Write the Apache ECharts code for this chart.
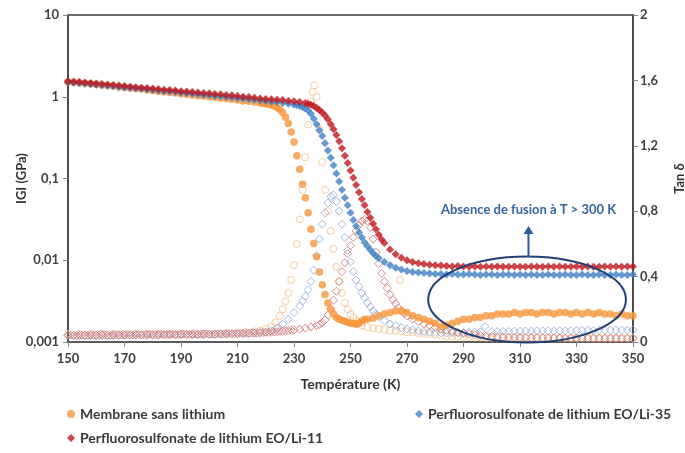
<!DOCTYPE html>
<html><head><meta charset="utf-8">
<script src="https://cdn.jsdelivr.net/npm/echarts@6/dist/echarts.min.js"></script>
<style>html,body{margin:0;padding:0;background:#fff}#c{width:685px;height:453px}</style>
</head><body><div id="c"></div><script>
// ---- data ----
const xTicks = [150,170,190,210,230,250,270,290,310,330,350];
const leftTicks = [0.001,0.01,0.1,1,10];
const rightTicks = [0,0.4,0.8,1.2,1.6,2];

const seriesNames = ['Membrane sans lithium','Perfluorosulfonate de lithium EO/Li-35','Perfluorosulfonate de lithium EO/Li-11'];

// G' (GPa) - filled markers, left log axis
const gMembrane = [[150,1.52],[152,1.50],[154,1.48],[156,1.46],[158,1.44],[160,1.41],[162,1.39],[164,1.37],[166,1.35],[168,1.32],[170,1.30],[172,1.28],[174,1.26],[176,1.24],[178,1.22],[180,1.19],[182,1.17],[184,1.15],[186,1.13],[188,1.11],[190,1.09],[192,1.07],[194,1.05],[196,1.03],[198,1.02],[200,1.00],[202,0.98],[204,0.96],[206,0.95],[208,0.93],[210,0.91],[212,0.89],[214,0.88],[216,0.86],[218,0.84],[219,0.83],[220,0.82],[221,0.81],[222,0.79],[223,0.77],[224,0.74],[225,0.70],[226,0.64],[227,0.56],[228,0.47],[229,0.37],[230,0.28],[231,0.19],[232,0.13],[233,0.085],[234,0.058],[235,0.038],[236,0.024],[237,0.016],[238,0.011],[239,0.0072],[240,0.0050],[241,0.0038],[242,0.0030],[243,0.0025],[244,0.0022],[245,0.0020],[246,0.0019],[247,0.00185],[248,0.0018],[249,0.00175],[250,0.0017],[251,0.0017],[252,0.00165],[253,0.0017],[254,0.0018],[255,0.0019],[256,0.0019],[258,0.00195],[260,0.0021],[262,0.0022],[264,0.0023],[266,0.0024],[268,0.0024],[270,0.0023],[272,0.0021],[274,0.0020],[276,0.0019],[278,0.0018],[280,0.0017],[282,0.00155],[284,0.0016],[286,0.0017],[288,0.0018],[290,0.0019],[292,0.0019],[294,0.0020],[296,0.0020],[298,0.0021],[300,0.0021],[302,0.0022],[304,0.0022],[306,0.0022],[308,0.0023],[310,0.0022],[312,0.0023],[314,0.0023],[316,0.0022],[318,0.0023],[320,0.0023],[322,0.0022],[324,0.0023],[326,0.0023],[328,0.0022],[330,0.0023],[332,0.0022],[334,0.0023],[336,0.0022],[338,0.0023],[340,0.0022],[342,0.0022],[344,0.0021],[346,0.0022],[348,0.0021],[350,0.0021]];

const gLi35 = [[150,1.50],[152,1.48],[154,1.46],[156,1.44],[158,1.42],[160,1.40],[162,1.38],[164,1.36],[166,1.34],[168,1.32],[170,1.30],[172,1.28],[174,1.26],[176,1.25],[178,1.23],[180,1.21],[182,1.19],[184,1.17],[186,1.16],[188,1.14],[190,1.12],[192,1.10],[194,1.09],[196,1.07],[198,1.05],[200,1.04],[202,1.02],[204,1.01],[206,0.99],[208,0.98],[210,0.96],[212,0.95],[214,0.93],[216,0.92],[218,0.90],[220,0.89],[222,0.87],[224,0.86],[226,0.84],[228,0.82],[230,0.80],[231,0.79],[232,0.77],[233,0.75],[234,0.72],[235,0.68],[236,0.62],[237,0.54],[238,0.46],[239,0.39],[240,0.33],[241,0.27],[242,0.22],[243,0.18],[244,0.145],[245,0.115],[246,0.092],[247,0.073],[248,0.058],[249,0.047],[250,0.038],[251,0.031],[252,0.026],[253,0.022],[254,0.019],[255,0.0165],[256,0.0148],[257,0.0134],[258,0.0122],[259,0.0113],[260,0.0106],[262,0.0095],[264,0.0087],[266,0.0081],[268,0.0077],[270,0.0074],[272,0.0072],[274,0.0071],[276,0.0070],[278,0.0069],[280,0.0068],[282,0.0068],[284,0.0067],[286,0.0068],[288,0.0067],[290,0.0067],[292,0.0068],[294,0.0067],[296,0.0066],[298,0.0067],[300,0.0067],[302,0.0066],[304,0.0067],[306,0.0067],[308,0.0066],[310,0.0067],[312,0.0066],[314,0.0067],[316,0.0066],[318,0.0066],[320,0.0067],[322,0.0066],[324,0.0066],[326,0.0067],[328,0.0066],[330,0.0066],[332,0.0067],[334,0.0066],[336,0.0066],[338,0.0067],[340,0.0066],[342,0.0066],[344,0.0067],[346,0.0066],[348,0.0066],[350,0.0067]];

const gLi11 = [[150,1.55],[152,1.53],[154,1.51],[156,1.49],[158,1.47],[160,1.45],[162,1.43],[164,1.41],[166,1.39],[168,1.37],[170,1.35],[172,1.33],[174,1.31],[176,1.29],[178,1.28],[180,1.26],[182,1.24],[184,1.22],[186,1.21],[188,1.19],[190,1.17],[192,1.16],[194,1.14],[196,1.13],[198,1.11],[200,1.10],[202,1.08],[204,1.07],[206,1.05],[208,1.04],[210,1.02],[212,1.00],[214,0.99],[216,0.97],[218,0.95],[220,0.94],[222,0.93],[224,0.92],[226,0.91],[228,0.89],[230,0.88],[232,0.86],[234,0.84],[235,0.82],[236,0.80],[237,0.77],[238,0.73],[239,0.69],[240,0.64],[241,0.59],[242,0.53],[243,0.46],[244,0.40],[245,0.34],[246,0.285],[247,0.235],[248,0.19],[249,0.155],[250,0.125],[251,0.102],[252,0.083],[253,0.068],[254,0.056],[255,0.047],[256,0.039],[257,0.033],[258,0.028],[259,0.024],[260,0.0205],[261,0.018],[262,0.0162],[264,0.0135],[266,0.0118],[268,0.0107],[270,0.0100],[272,0.0095],[274,0.0092],[276,0.0090],[278,0.0088],[280,0.0087],[282,0.0086],[284,0.0085],[286,0.0084],[288,0.0085],[290,0.0084],[292,0.0083],[294,0.0084],[296,0.0083],[298,0.0084],[300,0.0083],[302,0.0084],[304,0.0083],[306,0.0083],[308,0.0084],[310,0.0083],[312,0.0083],[314,0.0084],[316,0.0083],[318,0.0083],[320,0.0084],[322,0.0083],[324,0.0084],[326,0.0083],[328,0.0083],[330,0.0084],[332,0.0083],[334,0.0084],[336,0.0083],[338,0.0083],[340,0.0084],[342,0.0083],[344,0.0084],[346,0.0083],[348,0.0084],[350,0.0084]];

// Tan delta - open markers, right linear axis
const tanMembrane = [[150,0.05],[154,0.05],[158,0.05],[162,0.05],[166,0.05],[170,0.05],[174,0.05],[178,0.05],[182,0.05],[186,0.05],[190,0.05],[194,0.05],[198,0.05],[202,0.05],[206,0.055],[210,0.055],[213,0.06],[216,0.065],[218,0.07],[220,0.08],[222,0.095],[223.5,0.12],[225,0.16],[226,0.2],[227,0.25],[228,0.30],[229,0.38],[230,0.47],[231,0.60],[232,0.75],[233,0.93],[234,1.13],[235,1.33],[236,1.47],[236.6,1.53],[237.2,1.57],[238,1.50],[239,1.30],[240,1.10],[241,0.93],[242,0.80],[243,0.68],[244,0.57],[245,0.46],[246,0.37],[247,0.30],[248,0.24],[249,0.20],[250,0.17],[251,0.15],[252,0.13],[253,0.115],[254,0.10],[256,0.09],[258,0.085],[260,0.08],[262,0.075],[264,0.07],[266,0.068],[267.5,0.38],[268,0.065],[270,0.06],[272,0.058],[274,0.055],[276,0.05],[278,0.048],[280,0.045],[282,0.04],[284,0.037],[286,0.034],[288,0.032],[290,0.03],[292,0.029],[294,0.028],[296,0.028],[298,0.027],[300,0.027],[302,0.026],[304,0.026],[306,0.026],[308,0.025],[310,0.025],[312,0.025],[314,0.025],[316,0.025],[318,0.025],[320,0.024],[322,0.024],[324,0.024],[326,0.024],[328,0.024],[330,0.024],[332,0.024],[334,0.024],[336,0.023],[338,0.023],[340,0.023],[342,0.023],[344,0.023],[346,0.023],[348,0.023],[350,0.023]];

const tanLi35 = [[150,0.04],[152,0.04],[154,0.04],[156,0.04],[158,0.04],[160,0.04],[162,0.04],[164,0.04],[166,0.04],[168,0.041],[170,0.041],[172,0.041],[174,0.041],[176,0.042],[178,0.042],[180,0.042],[182,0.042],[184,0.043],[186,0.043],[188,0.043],[190,0.044],[192,0.044],[194,0.044],[196,0.045],[198,0.045],[200,0.046],[202,0.046],[204,0.047],[206,0.048],[208,0.049],[210,0.05],[212,0.051],[214,0.053],[216,0.055],[218,0.058],[220,0.062],[222,0.07],[224,0.085],[226,0.11],[228,0.14],[230,0.18],[232,0.22],[233,0.25],[234,0.28],[235,0.32],[236,0.37],[237,0.44],[238,0.53],[239,0.63],[240,0.72],[241,0.79],[242,0.85],[243,0.89],[244,0.90],[245,0.86],[246,0.80],[247,0.72],[248,0.64],[249,0.56],[250,0.49],[251,0.43],[252,0.38],[253,0.34],[254,0.30],[255,0.27],[256,0.24],[257,0.215],[258,0.19],[259,0.17],[260,0.155],[262,0.13],[264,0.11],[266,0.10],[268,0.088],[270,0.08],[272,0.074],[274,0.068],[276,0.064],[278,0.06],[280,0.058],[282,0.056],[284,0.055],[286,0.056],[288,0.057],[290,0.058],[292,0.06],[294,0.06],[296,0.062],[297.6,0.095],[300,0.064],[302,0.064],[304,0.065],[306,0.065],[308,0.066],[310,0.066],[312,0.067],[314,0.067],[316,0.068],[318,0.068],[320,0.068],[322,0.069],[324,0.069],[326,0.07],[328,0.07],[330,0.07],[332,0.07],[334,0.071],[336,0.071],[338,0.071],[340,0.072],[342,0.072],[344,0.072],[346,0.073],[348,0.073],[350,0.073]];

const tanLi11 = [[150,0.040],[151,0.042],[152,0.041],[153,0.039],[154,0.040],[155,0.043],[156,0.042],[157,0.040],[158,0.041],[159,0.043],[160,0.042],[161,0.041],[162,0.043],[163,0.044],[164,0.042],[165,0.041],[166,0.043],[167,0.045],[168,0.044],[169,0.042],[170,0.043],[171,0.045],[172,0.044],[173,0.043],[174,0.045],[175,0.046],[176,0.044],[177,0.043],[178,0.045],[179,0.047],[180,0.046],[181,0.044],[182,0.045],[183,0.047],[184,0.046],[185,0.045],[186,0.047],[187,0.048],[188,0.046],[189,0.045],[190,0.047],[191,0.049],[192,0.048],[193,0.046],[194,0.047],[195,0.049],[196,0.048],[197,0.047],[198,0.049],[199,0.050],[200,0.048],[201,0.047],[202,0.049],[203,0.051],[204,0.05],[205,0.049],[206,0.05],[207,0.052],[208,0.051],[209,0.050],[210,0.052],[211,0.054],[212,0.053],[213,0.052],[214,0.054],[215,0.056],[216,0.055],[217,0.054],[218,0.056],[219,0.058],[220,0.058],[221,0.059],[222,0.06],[223,0.062],[224,0.063],[225,0.064],[226,0.066],[227,0.068],[228,0.07],[229,0.072],[230,0.074],[232,0.079],[234,0.085],[236,0.092],[238,0.10],[239,0.107],[240,0.118],[241,0.135],[242,0.165],[243,0.205],[244,0.255],[245,0.31],[246,0.37],[247,0.43],[248,0.485],[249,0.54],[250,0.59],[251,0.64],[252,0.68],[253,0.715],[254,0.74],[255,0.75],[256,0.74],[257,0.70],[258,0.63],[259,0.55],[260,0.48],[261,0.42],[262,0.37],[263,0.33],[264,0.29],[265,0.26],[266,0.235],[267,0.21],[268,0.19],[269,0.175],[270,0.16],[272,0.14],[274,0.125],[276,0.11],[278,0.10],[280,0.09],[282,0.08],[284,0.07],[286,0.064],[288,0.058],[290,0.053],[292,0.048],[294,0.044],[296,0.04],[298,0.037],[300,0.035],[302,0.033],[304,0.031],[306,0.03],[308,0.029],[310,0.028],[312,0.027],[314,0.027],[316,0.026],[318,0.026],[320,0.025],[322,0.025],[324,0.025],[326,0.024],[328,0.024],[330,0.024],[332,0.024],[334,0.023],[336,0.023],[338,0.023],[340,0.023],[342,0.023],[344,0.023],[346,0.022],[348,0.022],[350,0.022]];

// annotation (data units: temperature, tan delta)
const noteText = 'Absence de fusion à T > 300 K';
const noteEllipse = {t: 312.5, tan: 0.26, dt: 35, dtan: 0.263};
const noteArrow = {t: 313, from: 0.52, to: 0.71};
const noteLabel = {t: 313, tan: 0.807};

// ---- chart ----
const FONT = 'Lato, "Open Sans", sans-serif';
const fmtComma = v => String(v).replace('.', ',');
const chart = echarts.init(document.getElementById('c'), null, {renderer: 'canvas'});

const openStyle = (c) => ({color: 'rgba(255,255,255,0)', borderColor: c, borderWidth: 1});

chart.setOption({
  animation: false,
  backgroundColor: '#fff',
  grid: {left: 68, right: 52, top: 15, bottom: 111, outerBoundsMode: 'none', containLabel: false,
    show: true, borderColor: '#404040', borderWidth: 1.5, backgroundColor: 'transparent'},
  xAxis: {
    type: 'value', min: 150, max: 350, interval: 20,
    name: 'Température (K)', nameLocation: 'middle', nameGap: 35, nameMoveOverlap: false,
    nameTextStyle: {fontFamily: FONT, fontWeight: 'bold', fontSize: 14, color: '#333'},
    axisLine: {show: true, lineStyle: {color: '#555', width: 1.5}},
    axisTick: {show: true, length: 5, lineStyle: {color: '#888'}},
    splitLine: {show: false},
    axisLabel: {fontFamily: FONT, fontWeight: 'bold', fontSize: 13, color: '#404040', margin: 10,
      formatter: v => xTicks.includes(v) ? String(v) : ''}
  },
  yAxis: [{
    type: 'log', logBase: 10, min: leftTicks[0], max: leftTicks[leftTicks.length-1],
    name: 'IGI (GPa)', nameLocation: 'middle', nameGap: 40, nameRotate: 90, nameMoveOverlap: false,
    nameTextStyle: {fontFamily: FONT, fontWeight: 'bold', fontSize: 13, color: '#333'},
    axisLine: {show: true, lineStyle: {color: '#404040', width: 1.5}},
    axisTick: {show: true, length: 5, lineStyle: {color: '#888'}},
    splitLine: {show: false}, minorTick: {show: false},
    axisLabel: {fontFamily: FONT, fontWeight: 'bold', fontSize: 13, color: '#404040', margin: 9,
      formatter: v => v >= 1 ? String(Math.round(v)) : fmtComma(+v.toPrecision(1))}
  }, {
    type: 'value', position: 'right', min: rightTicks[0], max: rightTicks[rightTicks.length-1], interval: 0.4,
    name: 'Tan δ', nameLocation: 'middle', nameGap: 40, nameRotate: 90, nameMoveOverlap: false,
    nameTextStyle: {fontFamily: FONT, fontWeight: 'bold', fontSize: 13, color: '#333'},
    axisLine: {show: true, lineStyle: {color: '#404040', width: 1.5}},
    axisTick: {show: true, length: 5, lineStyle: {color: '#888'}},
    splitLine: {show: false},
    axisLabel: {fontFamily: FONT, fontWeight: 'bold', fontSize: 13, color: '#404040', margin: 7,
      formatter: v => fmtComma(Math.round(v * 10) / 10)}
  }],
  legend: [
    {data: [seriesNames[0]], left: 62, top: 402, itemWidth: 8, itemHeight: 8, itemGap: 5,
      textStyle: {fontFamily: FONT, fontWeight: 'bold', fontSize: 14, color: '#3a3a3a'}},
    {data: [seriesNames[1]], left: 410, top: 402, itemWidth: 8, itemHeight: 8,
      textStyle: {fontFamily: FONT, fontWeight: 'bold', fontSize: 14, color: '#3a3a3a'}},
    {data: [seriesNames[2]], left: 62, top: 426, itemWidth: 8, itemHeight: 8,
      textStyle: {fontFamily: FONT, fontWeight: 'bold', fontSize: 14, color: '#3a3a3a'}}
  ],
  series: [
    {name: 'tan1', type: 'scatter', yAxisIndex: 1, data: tanMembrane, symbol: 'circle', symbolSize: 7, itemStyle: openStyle('#F2C48A'), silent: true},
    {name: 'tan2', type: 'scatter', yAxisIndex: 1, data: tanLi35, symbol: 'diamond', symbolSize: 8, itemStyle: openStyle('#8FA8D4'), silent: true},
    {name: 'tan3', type: 'scatter', yAxisIndex: 1, data: tanLi11, symbol: 'diamond', symbolSize: 8, itemStyle: openStyle('#D07272'), silent: true},
    {name: seriesNames[0], type: 'scatter', yAxisIndex: 0, data: gMembrane, symbol: 'circle', symbolSize: 7.5, itemStyle: {color: '#F7963C'}},
    {name: seriesNames[1], type: 'scatter', yAxisIndex: 0, data: gLi35, symbol: 'diamond', symbolSize: 8, itemStyle: {color: '#3F80C4'}},
    {name: seriesNames[2], type: 'scatter', yAxisIndex: 0, data: gLi11, symbol: 'diamond', symbolSize: 8, itemStyle: {color: '#C0161D'}}
  ]
});

// annotation placed through the chart's own coordinate conversion
const px = (t, tan) => chart.convertToPixel({xAxisIndex: 0, yAxisIndex: 1}, [t, tan]);
const c0 = px(noteEllipse.t, noteEllipse.tan);
const cx1 = px(noteEllipse.t + noteEllipse.dt, noteEllipse.tan);
const cy1 = px(noteEllipse.t, noteEllipse.tan + noteEllipse.dtan);
const a0 = px(noteArrow.t, noteArrow.from);
const a1 = px(noteArrow.t, noteArrow.to);
const lb = px(noteLabel.t, noteLabel.tan);
chart.setOption({
  graphic: [
    {type: 'ellipse', z: 100, shape: {cx: c0[0], cy: c0[1], rx: cx1[0] - c0[0], ry: c0[1] - cy1[1]},
      style: {fill: 'none', stroke: '#213F78', lineWidth: 2}},
    {type: 'line', z: 100, shape: {x1: a0[0], y1: a0[1], x2: a1[0], y2: a1[1] + 6},
      style: {stroke: '#2F5C97', lineWidth: 2}},
    {type: 'polygon', z: 100, shape: {points: [[a1[0] - 5, a1[1] + 8], [a1[0] + 5, a1[1] + 8], [a1[0], a1[1]]]},
      style: {fill: '#2F5C97'}},
    {type: 'text', z: 100, x: lb[0], y: lb[1],
      style: {text: noteText, fill: '#36659E', font: 'bold 13px ' + FONT, textAlign: 'center', textVerticalAlign: 'middle'}}
  ]
});
</script></body></html>
